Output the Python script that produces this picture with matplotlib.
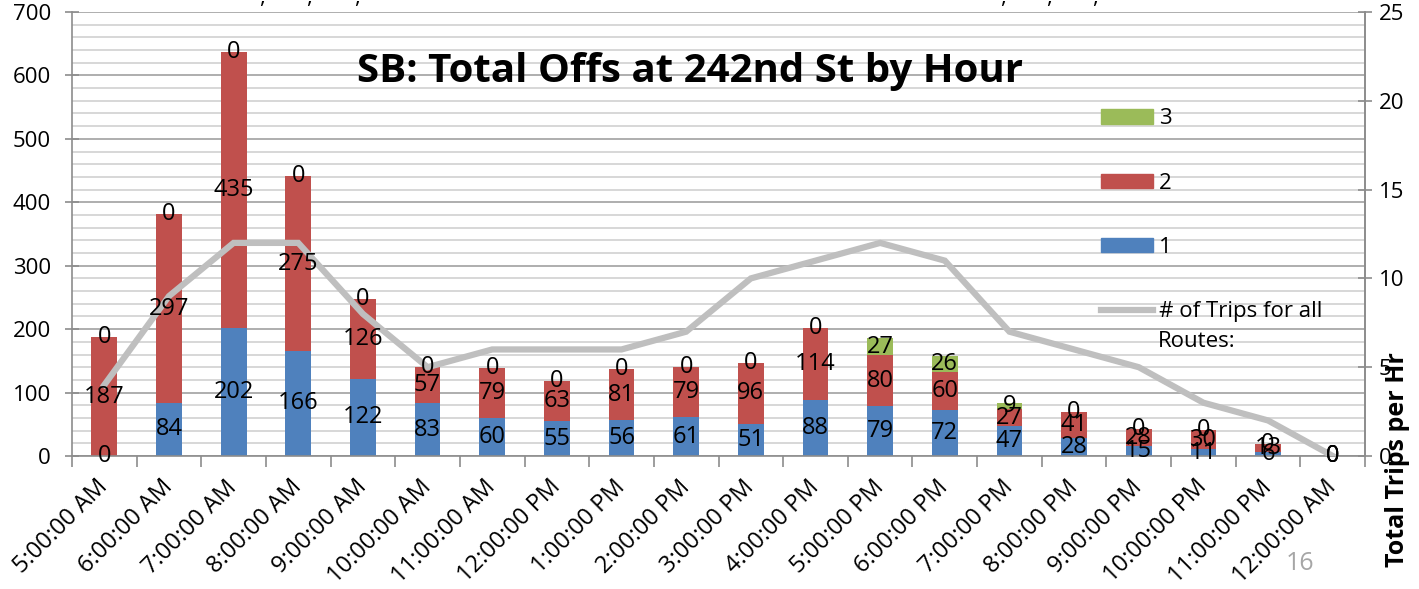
import numpy as np
import matplotlib.pyplot as plt
from matplotlib.patches import Patch
from matplotlib.lines import Line2D

plt.rcParams['font.family'] = ['Open Sans', 'DejaVu Sans']

hours = ['5:00:00 AM', '6:00:00 AM', '7:00:00 AM', '8:00:00 AM', '9:00:00 AM',
         '10:00:00 AM', '11:00:00 AM', '12:00:00 PM', '1:00:00 PM', '2:00:00 PM',
         '3:00:00 PM', '4:00:00 PM', '5:00:00 PM', '6:00:00 PM', '7:00:00 PM',
         '8:00:00 PM', '9:00:00 PM', '10:00:00 PM', '11:00:00 PM', '12:00:00 AM']
route1 = [0, 84, 202, 166, 122, 83, 60, 55, 56, 61, 51, 88, 79, 72, 47, 28, 15, 11, 6, 0]
route2 = [187, 297, 435, 275, 126, 57, 79, 63, 81, 79, 96, 114, 80, 60, 27, 41, 28, 30, 13, 0]
route3 = [0, 0, 0, 0, 0, 0, 0, 0, 0, 0, 0, 0, 27, 26, 9, 0, 0, 0, 0, 0]
trips = [4, 9, 12, 12, 8, 5, 6, 6, 6, 7, 10, 11, 12, 11, 7, 6, 5, 3, 2, 0]

blue = '#4F81BD'
red = '#C0504D'
green = '#9BBB59'
gray = '#BFBFBF'
axis_gray = '#8C8C8C'

x = np.arange(len(hours))
r1 = np.array(route1)
r2 = np.array(route2)
r3 = np.array(route3)

fig = plt.figure(figsize=(14.19, 5.89), dpi=100)
ax = fig.add_axes([0.0507, 0.2258, 0.9113, 0.7538])
ax2 = ax.twinx()

w = 0.4
ax.bar(x, r1, w, color=blue)
ax.bar(x, r2, w, bottom=r1, color=red)
ax.bar(x, r3, w, bottom=r1 + r2, color=green)

ax.set_ylim(0, 700)
ax.set_xlim(-0.5, len(hours) - 0.5)
ax.set_yticks(range(0, 701, 100))
ax.set_yticks(range(0, 701, 20), minor=True)
ax.grid(axis='y', which='minor', color='#D4D4D4', lw=1.3)
ax.grid(axis='y', which='major', color='#A8A8A8', lw=1.3)
ax.set_axisbelow(True)

ax.set_xticks(x)
ax.set_xticklabels(hours, rotation=45, ha='right', va='center',
                   rotation_mode='anchor', fontsize=17)
ax.set_xticks(np.arange(-0.5, len(hours), 1), minor=True)
ax.tick_params(axis='x', which='major', length=0, pad=20)
ax.tick_params(axis='x', which='minor', length=8, color=axis_gray, width=1.2)
ax.tick_params(axis='y', which='major', direction='inout', length=10,
               color=axis_gray, width=1.2, labelsize=16, pad=10)
ax.tick_params(axis='y', which='minor', length=0)
ax.spines['top'].set_visible(False)
for s in ['left', 'bottom', 'right']:
    ax.spines[s].set_color(axis_gray)
    ax.spines[s].set_linewidth(1.2)

ax2.plot(x, trips, color=gray, lw=4.5, solid_joinstyle='miter')
ax2.set_ylim(0, 25)
ax2.set_yticks(range(0, 26, 5))
ax2.tick_params(axis='y', direction='inout', length=10, color=axis_gray, width=1.2,
                labelsize=16, pad=5)
for s in ['top', 'left', 'bottom']:
    ax2.spines[s].set_visible(False)
ax2.spines['right'].set_color(axis_gray)
ax2.spines['right'].set_linewidth(1.2)

# data labels drawn above the line
bottoms = [np.zeros(len(x)), r1, r1 + r2]
for vals, bot in zip([r1, r2, r3], bottoms):
    for xi, v, b in zip(x, vals, bot):
        ax2.text(xi, b + v / 2, str(v), transform=ax.transData,
                 ha='center', va='center', fontsize=17, color='black')

ax.text(0.478, 0.865, 'SB: Total Offs at 242nd St by Hour', transform=ax.transAxes,
        ha='center', va='center', fontsize=29, fontweight='bold')

handles = [Patch(color=green), Patch(color=red), Patch(color=blue),
           Line2D([], [], color=gray, lw=4.5)]
labels = ['3', '2', '1', '# of Trips for all']
leg = fig.legend(handles, labels, loc='upper left', bbox_to_anchor=(0.7618, 0.85),
                 frameon=False, fontsize=16, labelspacing=1.95, handlelength=2.35,
                 handleheight=0.63, handletextpad=0.25)
fig.text(0.816, 0.421, 'Routes:', ha='left', va='center', fontsize=16)

fig.text(0.9845, 0.22, 'Total Trips per Hr', rotation=90, ha='center', va='center',
         fontsize=18, fontweight='bold')
fig.text(0.916, 0.044, '16', ha='center', va='center', fontsize=18, color='#A6A6A6')

# tails of a cut-off line of text at the top edge
for cx in [262, 309, 357, 1003, 1049, 1095]:
    fig.text(cx / 1419, 1.0 - 3 / 589, ',', ha='center', va='baseline', fontsize=16)

fig.savefig('out.png', dpi=100)
